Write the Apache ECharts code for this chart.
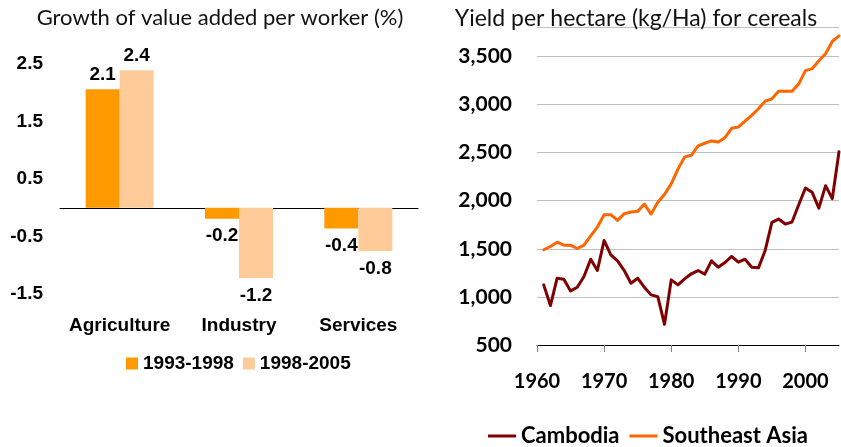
<!DOCTYPE html>
<html>
<head>
<meta charset="utf-8">
<script src="https://cdn.jsdelivr.net/npm/echarts@6/dist/echarts.min.js"></script>
<style>
    html, body { margin: 0; padding: 0; background: #fff; }
    #main { width: 841px; height: 447px; }
</style>
</head>
<body>
<div id="main"></div>
<script>
// left chart: growth of value added per worker
var sectors = ['Agriculture', 'Industry', 'Services'];
var growth9398 = [2.06, -0.19, -0.36];
var growth9805 = [2.39, -1.22, -0.75];

// right chart: cereal yield (kg/Ha)
var years = [1961, 1962, 1963, 1964, 1965, 1966, 1967, 1968, 1969, 1970,
    1971, 1972, 1973, 1974, 1975, 1976, 1977, 1978, 1979, 1980,
    1981, 1982, 1983, 1984, 1985, 1986, 1987, 1988, 1989, 1990,
    1991, 1992, 1993, 1994, 1995, 1996, 1997, 1998, 1999, 2000,
    2001, 2002, 2003, 2004, 2005];
var cambodia = [1125, 910, 1194, 1184, 1062, 1100, 1212, 1392, 1274, 1587,
    1437, 1375, 1274, 1142, 1194, 1100, 1021, 1003, 715, 1177,
    1125, 1187, 1240, 1274, 1236, 1375, 1309, 1357, 1420, 1361,
    1392, 1309, 1302, 1483, 1774, 1809, 1757, 1778, 1958, 2132,
    2087, 1923, 2156, 2021, 2509];
var seAsia = [1490, 1524, 1569, 1538, 1538, 1503, 1538, 1635, 1726, 1854,
    1854, 1795, 1865, 1882, 1889, 1965, 1861, 1983, 2065, 2175,
    2328, 2455, 2472, 2569, 2597, 2621, 2610, 2655, 2752, 2765,
    2828, 2886, 2955, 3034, 3059, 3138, 3138, 3138, 3214, 3352,
    3372, 3455, 3527, 3655, 3714];

var arialBold = { fontFamily: 'Liberation Sans', fontWeight: 'bold', fontSize: 19, color: '#000' };
var caliBold = { fontFamily: 'Lato', fontWeight: 'bold', fontSize: 21, color: '#000' };
var titleFont = { fontFamily: 'Lato', fontWeight: 'normal', fontSize: 22, color: '#111' };

function barData(vals) {
    return vals.map(function(v) {
        return { value: v, label: { position: v < 0 ? 'bottom' : 'top', distance: v < 0 ? 8 : 5 } };
    });
}

function pairs(vals) {
    return vals.map(function(v, i) { return [years[i], v]; });
}

var myChart = echarts.init(document.getElementById('main'));
var option = {
    animation: false,
    title: [{
        text: 'Growth of value added per worker (%)',
        left: 220, top: 7, padding: 0, textAlign: 'center',
        textStyle: titleFont
    }, {
        text: 'Yield per hectare (kg/Ha) for cereals',
        left: 636, top: 7, padding: 0, textAlign: 'center',
        textStyle: Object.assign({}, titleFont, { fontSize: 23 })
    }],
    legend: [{
        data: ['1993-1998', '1998-2005'],
        left: 126, top: 354, padding: 0,
        itemWidth: 12, itemHeight: 12, itemGap: 9,
        icon: 'rect',
        textStyle: arialBold
    }, {
        data: ['Cambodia', 'Southeast Asia'],
        left: 488, top: 425, padding: 0,
        itemWidth: 28, itemHeight: 3, itemGap: 10,
        icon: 'rect',
        textStyle: Object.assign({}, caliBold, { fontSize: 22 })
    }],
    grid: [
        { left: 60, top: 64, width: 358, height: 230 },
        { left: 537, top: 27.5, width: 302, height: 317.5 }
    ],
    xAxis: [{
        type: 'category', gridIndex: 0, data: sectors,
        axisLine: { onZero: true, lineStyle: { color: '#000', width: 1 } },
        axisTick: { length: 6, lineStyle: { color: '#000' } },
        axisLabel: { show: false }
    }, {
        // labels sit at the bottom of the plot, not on the zero line
        type: 'category', gridIndex: 0, data: sectors, position: 'bottom',
        axisLine: { show: false, onZero: false },
        axisTick: { show: false },
        axisLabel: Object.assign({ margin: 22, interval: 0 }, arialBold)
    }, {
        type: 'value', gridIndex: 1, min: 1960, max: 2005, interval: 10,
        axisLine: { lineStyle: { color: '#000', width: 1 } },
        axisTick: { length: 7, lineStyle: { color: '#808080' } },
        splitLine: { show: false },
        axisLabel: Object.assign({
            margin: 27, showMaxLabel: false,
            formatter: function(v) { return v % 10 === 0 ? String(v) : ''; }
        }, caliBold, { fontSize: 20 })
    }],
    yAxis: [{
        type: 'value', gridIndex: 0, min: -1.5, max: 2.5, interval: 0.5,
        axisLine: { show: false }, axisTick: { show: false }, splitLine: { show: false },
        axisLabel: Object.assign({
            margin: 17,
            formatter: function(v) { return Math.abs(Math.round(v * 2)) % 2 === 1 ? v.toFixed(1) : ''; }
        }, arialBold)
    }, {
        type: 'value', gridIndex: 1, min: 500, max: 3800, interval: 500,
        axisLine: { show: false }, axisTick: { show: false },
        splitLine: { lineStyle: { color: '#bfbfbf', width: 1 } },
        axisLabel: Object.assign({
            margin: 25, showMaxLabel: false,
            formatter: function(v) { return v % 500 === 0 ? v.toLocaleString('en-US') : ''; }
        }, caliBold)
    }],
    series: [{
        name: '1993-1998', type: 'bar', xAxisIndex: 0, yAxisIndex: 0,
        barWidth: 34, barGap: '0%',
        itemStyle: { color: '#ff9900' },
        label: Object.assign({ show: true, formatter: function(p) { return p.value.toFixed(1); } }, arialBold),
        data: barData(growth9398)
    }, {
        name: '1998-2005', type: 'bar', xAxisIndex: 0, yAxisIndex: 0,
        barWidth: 34, barGap: '0%',
        itemStyle: { color: '#ffcc99' },
        label: Object.assign({ show: true, formatter: function(p) { return p.value.toFixed(1); } }, arialBold),
        data: barData(growth9805)
    }, {
        name: 'Cambodia', type: 'line', xAxisIndex: 2, yAxisIndex: 1,
        symbol: 'none',
        itemStyle: { color: '#800000' },
        lineStyle: { color: '#800000', width: 3, join: 'round', cap: 'round' },
        data: pairs(cambodia)
    }, {
        name: 'Southeast Asia', type: 'line', xAxisIndex: 2, yAxisIndex: 1,
        symbol: 'none',
        itemStyle: { color: '#ff6600' },
        lineStyle: { color: '#ff6600', width: 3, join: 'round', cap: 'round' },
        data: pairs(seAsia)
    }]
};
myChart.setOption(option);
</script>
</body>
</html>
